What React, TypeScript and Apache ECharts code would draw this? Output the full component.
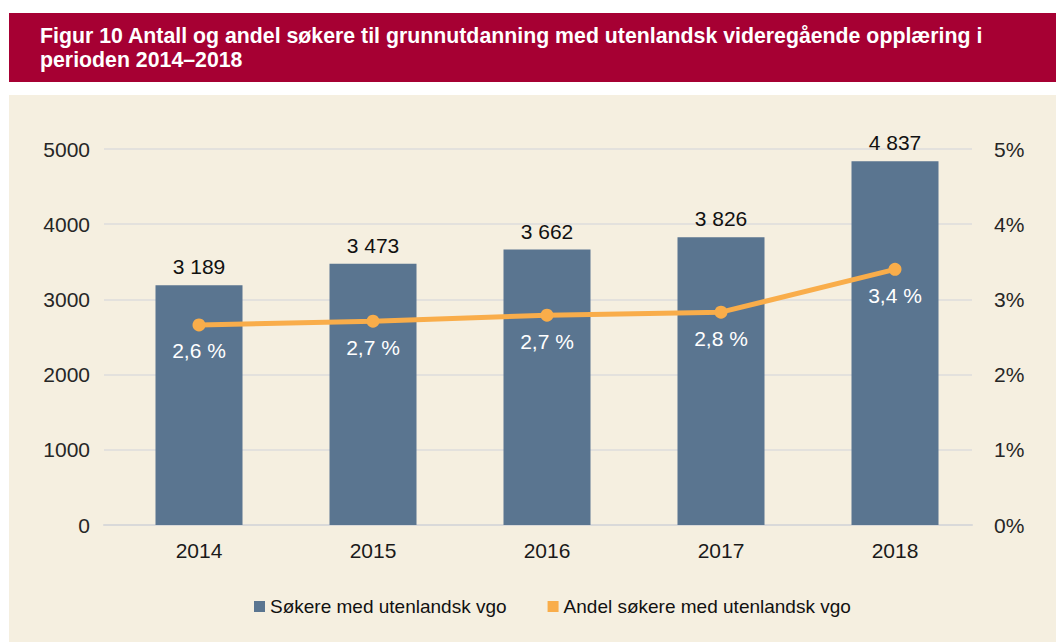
import React, { useEffect, useRef } from "react";
import * as echarts from "echarts";

const titleLine1 = "Figur 10 Antall og andel søkere til grunnutdanning med utenlandsk videregående opplæring i";
const titleLine2 = "perioden 2014–2018";
const years = ["2014", "2015", "2016", "2017", "2018"];
const applicants = [3189, 3473, 3662, 3826, 4837];
const shares = [2.66, 2.71, 2.79, 2.83, 3.4];
const shareLabels = ["2,6 %", "2,7 %", "2,7 %", "2,8 %", "3,4 %"];
const seriesNames = ["Søkere med utenlandsk vgo", "Andel søkere med utenlandsk vgo"];

const FONT = '"Liberation Sans", Arial, sans-serif';

export default function App() {
  const ref = useRef<HTMLDivElement>(null);
  useEffect(() => {
    if (!ref.current) return;
    const chart = echarts.init(ref.current, null, { renderer: "svg" });
    chart.setOption({
      animation: false,
      textStyle: { fontFamily: FONT },
      graphic: [
        { type: "rect", z: -10, shape: { x: 9, y: 13, width: 1047, height: 69 }, style: { fill: "#a60033" } },
        { type: "rect", z: -10, shape: { x: 9, y: 95, width: 1047, height: 547 }, style: { fill: "#f5efe0" } },
        {
          type: "text", z: 10, x: 40, y: 36,
          style: { text: titleLine1, fill: "#ffffff", font: `bold 21.3px ${FONT}`, verticalAlign: "middle" },
        },
        {
          type: "text", z: 10, x: 40, y: 60,
          style: { text: titleLine2, fill: "#ffffff", font: `bold 21.3px ${FONT}`, verticalAlign: "middle" },
        },
      ],
      grid: [
        { left: 104, right: 84, top: 149, bottom: 117 },
        { left: 112, right: 74, top: 149, bottom: 117 },
      ],
      legend: {
        left: 254,
        top: 597,
        padding: 0,
        itemWidth: 11,
        itemHeight: 11,
        itemGap: 41,
        icon: "rect",
        textStyle: { fontSize: 19, color: "#111111", fontFamily: FONT },
        data: seriesNames,
      },
      xAxis: [
        {
          type: "category",
          gridIndex: 0,
          data: years,
          axisLine: { lineStyle: { color: "#d9d9d9", width: 2 } },
          axisTick: { show: false },
          axisLabel: { show: false },
        },
        {
          type: "category",
          gridIndex: 1,
          data: years,
          axisLine: { show: false },
          axisTick: { show: false },
          axisLabel: { fontSize: 21, color: "#1a1a1a", margin: 15, fontFamily: FONT },
        },
      ],
      yAxis: [
        {
          type: "value",
          gridIndex: 0,
          min: 0,
          max: 5000,
          interval: 1000,
          axisLine: { show: false },
          axisTick: { show: false },
          splitLine: { lineStyle: { color: "#dcdcdc", width: 1.5 } },
          axisLabel: { fontSize: 21, color: "#262626", margin: 14, fontFamily: FONT, formatter: (v: number) => String(v) },
        },
        {
          type: "value",
          gridIndex: 0,
          min: 0,
          max: 5,
          interval: 1,
          axisLine: { show: false },
          axisTick: { show: false },
          splitLine: { show: false },
          axisLabel: { fontSize: 21, color: "#262626", margin: 22, formatter: "{value}%", fontFamily: FONT },
        },
        {
          type: "value",
          gridIndex: 1,
          min: 0,
          max: 5000,
          interval: 1000,
          show: false,
          splitLine: { show: false },
        },
        {
          type: "value",
          gridIndex: 1,
          min: 0,
          max: 5,
          interval: 1,
          show: false,
          splitLine: { show: false },
        },
      ],
      series: [
        {
          name: seriesNames[0],
          type: "bar",
          xAxisIndex: 1,
          yAxisIndex: 2,
          data: applicants,
          barCategoryGap: "50%",
          itemStyle: { color: "#5a7590" },
          label: {
            show: true,
            position: "top",
            distance: 8,
            fontSize: 21,
            color: "#111111",
            fontFamily: FONT,
            formatter: (p: any) => String(p.value).replace(/\B(?=(\d{3})+(?!\d))/g, " "),
          },
        },
        {
          name: seriesNames[1],
          type: "line",
          xAxisIndex: 1,
          yAxisIndex: 3,
          data: shares,
          symbol: "circle",
          symbolSize: 13,
          lineStyle: { color: "#f9ad4a", width: 5 },
          itemStyle: { color: "#f9ad4a" },
          label: {
            show: true,
            position: "bottom",
            distance: 9,
            fontSize: 21,
            color: "#ffffff",
            fontFamily: FONT,
            formatter: (p: any) => shareLabels[p.dataIndex],
          },
        },
      ],
    });
    return () => chart.dispose();
  }, []);
  return (
    <div
      ref={ref}
      style={{ position: "absolute", left: 0, top: 0, width: 1056, height: 642, background: "#ffffff" }}
    />
  );
}
